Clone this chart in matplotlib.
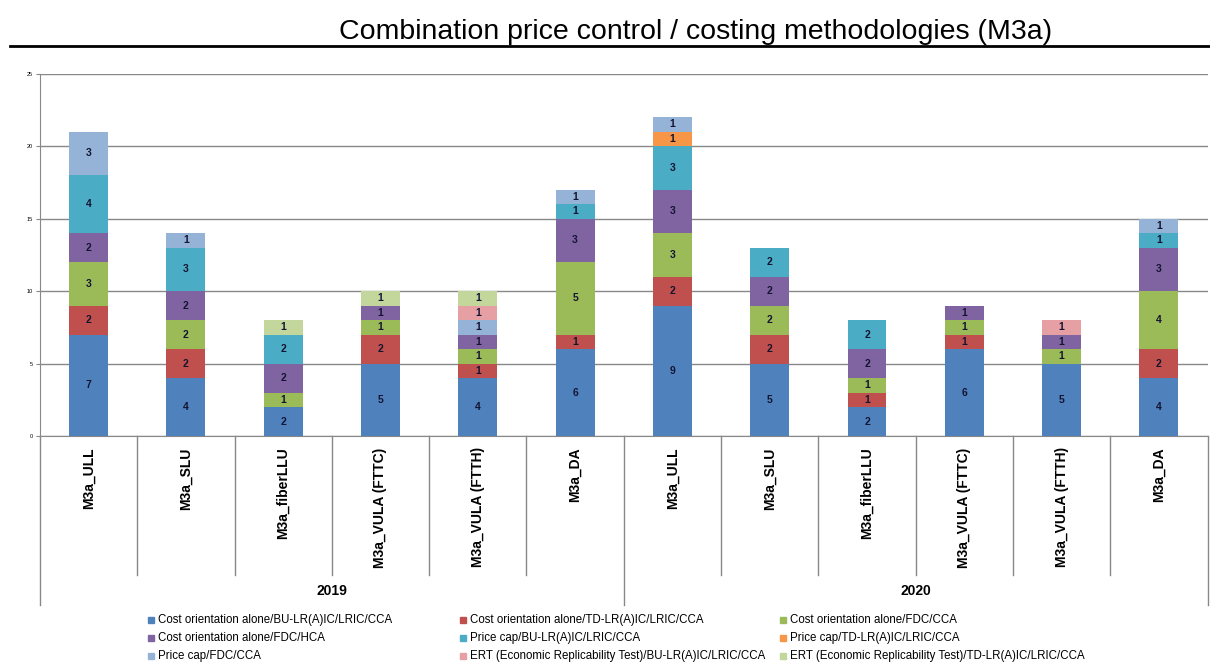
import numpy as np
import matplotlib.pyplot as plt
from matplotlib.patches import Rectangle

years = ["2019", "2020"]
products = ["M3a_ULL", "M3a_SLU", "M3a_fiberLLU", "M3a_VULA (FTTC)", "M3a_VULA (FTTH)", "M3a_DA"]
categories = products + products

series_names = [
    "Cost orientation alone/BU-LR(A)IC/LRIC/CCA",
    "Cost orientation alone/TD-LR(A)IC/LRIC/CCA",
    "Cost orientation alone/FDC/CCA",
    "Cost orientation alone/FDC/HCA",
    "Price cap/BU-LR(A)IC/LRIC/CCA",
    "Price cap/TD-LR(A)IC/LRIC/CCA",
    "Price cap/FDC/CCA",
    "ERT (Economic Replicability Test)/BU-LR(A)IC/LRIC/CCA",
    "ERT (Economic Replicability Test)/TD-LR(A)IC/LRIC/CCA",
]
colors = ["#4F81BD", "#C0504D", "#9BBB59", "#8064A2", "#4BACC6",
          "#F79646", "#95B3D7", "#E6A0A4", "#C3D69B"]

# values per series, 12 bars (2019 x6, 2020 x6)
co_bu   = [7, 4, 2, 5, 4, 6,  9, 5, 2, 6, 5, 4]
co_td   = [2, 2, 0, 2, 1, 1,  2, 2, 1, 1, 0, 2]
co_fdc  = [3, 2, 1, 1, 1, 5,  3, 2, 1, 1, 1, 4]
co_hca  = [2, 2, 2, 1, 1, 3,  3, 2, 2, 1, 1, 3]
pc_bu   = [4, 3, 2, 0, 0, 1,  3, 2, 2, 0, 0, 1]
pc_td   = [0, 0, 0, 0, 0, 0,  1, 0, 0, 0, 0, 0]
pc_fdc  = [3, 1, 0, 0, 1, 1,  1, 0, 0, 0, 0, 1]
ert_bu  = [0, 0, 0, 0, 1, 0,  0, 0, 0, 0, 1, 0]
ert_td  = [0, 0, 1, 1, 1, 0,  0, 0, 0, 0, 0, 0]
series = [co_bu, co_td, co_fdc, co_hca, pc_bu, pc_td, pc_fdc, ert_bu, ert_td]

plt.rcParams['font.family'] = ['Liberation Sans', 'DejaVu Sans']

fig = plt.figure(figsize=(12.1, 6.7), dpi=100)
ax = fig.add_axes([0.033, 0.349, 0.965, 0.541])

x = np.arange(len(categories))
bottom = np.zeros(len(categories))
for name, vals, col in zip(series_names, series, colors):
    vals = np.array(vals, dtype=float)
    bars = ax.bar(x, vals, 0.4, bottom=bottom, color=col, label=name, zorder=3)
    for b, v in zip(bars, vals):
        if v > 0:
            ax.text(b.get_x() + b.get_width() / 2, b.get_y() + v / 2, str(int(v)),
                    ha='center', va='center', fontsize=7.5, fontweight='bold',
                    color='#141432', zorder=4)
    bottom += vals

ax.set_xlim(-0.5, len(categories) - 0.5)
ax.set_ylim(0, 25)
ax.set_yticks(range(0, 26, 5))
ax.tick_params(axis='y', labelsize=4, length=3, color='#888888', pad=2)
ax.yaxis.grid(True, color='#888888', linewidth=1, zorder=0)
for s in ['top', 'right']:
    ax.spines[s].set_visible(False)
ax.spines['left'].set_color('#888888')
ax.spines['bottom'].set_color('#888888')

ax.set_xticks(x)
ax.set_xticklabels(categories, rotation=90, fontsize=10, fontweight='bold', va='top')
ax.tick_params(axis='x', length=0, pad=8)

# multi-level category separators
trans = ax.get_xaxis_transform()
for b in np.arange(-0.5, len(categories), 1.0):
    long = b in (-0.5, 5.5, 11.5)
    ax.plot([b, b], [0, -0.467 if long else -0.384], transform=trans,
            color='#888888', linewidth=1, clip_on=False)
for i, yr in enumerate(years):
    ax.text(2.5 + 6 * i, -0.428, yr, transform=trans, ha='center', va='center',
            fontsize=10, fontweight='bold')

fig.text(0.575, 0.952, "Combination price control / costing methodologies (M3a)",
         ha='center', va='center', fontsize=20.5)
fig.add_artist(plt.Line2D([0.008, 1.0], [0.931, 0.931], color='black', linewidth=2))

# legend, 3 columns filled row by row
col_x = [148, 460, 780]
row_y = [620, 638, 656]
for i, (name, col) in enumerate(zip(series_names, colors)):
    px = col_x[i % 3]
    py = row_y[i // 3]
    fig.add_artist(Rectangle((px / 1210, 1 - (py + 3) / 670), 6 / 1210, 6 / 670,
                             transform=fig.transFigure, color=col))
    fig.text((px + 10) / 1210, 1 - py / 670, name, ha='left', va='center',
             fontsize=8.3)

fig.savefig("out.png", dpi=100)
